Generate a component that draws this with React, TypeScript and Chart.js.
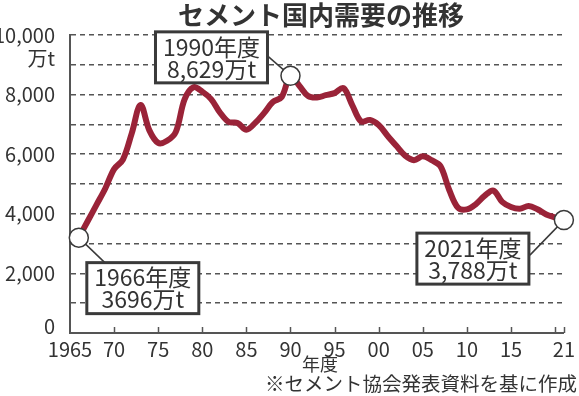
import React, { useEffect, useRef } from "react";
import { Chart, registerables } from "chart.js";

Chart.register(...registerables);

const FONT = '"Noto Sans CJK JP", "Noto Sans", sans-serif';
const TEXT = "#333333";
const AXIS = "#555555";
const LINE_RED = "#9a2338";

const title = "セメント国内需要の推移";
const yUnit = "万t";
const xTitle = "年度";
const sourceNote = "※セメント協会発表資料を基に作成";

const years = [
  1966, 1967, 1968, 1969, 1970, 1971, 1972, 1973, 1974, 1975,
  1976, 1977, 1978, 1979, 1980, 1981, 1982, 1983, 1984, 1985,
  1986, 1987, 1988, 1989, 1990, 1991, 1992, 1993, 1994, 1995,
  1996, 1997, 1998, 1999, 2000, 2001, 2002, 2003, 2004, 2005,
  2006, 2007, 2008, 2009, 2010, 2011, 2012, 2013, 2014, 2015,
  2016, 2017, 2018, 2019, 2020, 2021,
];

// domestic demand (万t)
const demand = [
  3200, 3750, 4300, 4850, 5500, 5820, 6700, 7650, 6800, 6380,
  6450, 6750, 7850, 8250, 8100, 7850, 7400, 7080, 7050, 6820,
  7050, 7380, 7750, 7920, 8629, 8300, 7950, 7900, 7980, 8050,
  8220, 7650, 7100, 7150, 6980, 6620, 6280, 5950, 5800, 5930,
  5800, 5600, 4800, 4200, 4150, 4320, 4600, 4780, 4400, 4230,
  4170, 4260, 4150, 3980, 3880, 3788,
];

const xTickYears = [1965, 1970, 1975, 1980, 1985, 1990, 1995, 2000, 2005, 2010, 2015, 2020, 2021];
const xMin = 1965;
const xMax = 2021;
const yMin = 0;
const yMax = 10000;
const yStep = 1000;

const highlightYears = [1966, 1990, 2021];
const highlightLine1 = ["1966年度", "1990年度", "2021年度"];
const highlightLine2 = ["3696万t", "8,629万t", "3,788万t"];
// box offsets relative to the marker: [left, top, leaderX, leaderY]
const boxOffsets = [
  [8, 25, 26, 25],
  [-135, -44, -23, -20],
  [-147, 13, -34, 35],
];
const BOX_W = 112;
const BOX_H = 51;

function xLabel(v: number): string {
  if (v === 1965) return "1965";
  if (v === 2020) return "";
  return String(v % 100).padStart(2, "0");
}

export default function App() {
  const ref = useRef<HTMLCanvasElement | null>(null);

  useEffect(() => {
    document.body.style.margin = "0";
    const canvas = ref.current;
    if (!canvas) return;

    const markerPos = (chart: any, i: number) => {
      const xs = chart.scales.x;
      const ys = chart.scales.y;
      const idx = years.indexOf(highlightYears[i]);
      return { x: xs.getPixelForValue(years[idx]), y: ys.getPixelForValue(demand[idx]) };
    };

    const decor = {
      id: "decor",
      beforeDatasetsDraw(chart: any) {
        const ctx = chart.ctx;
        ctx.save();
        ctx.strokeStyle = "#3a3a3a";
        ctx.lineWidth = 1.5;
        for (let i = 0; i < highlightYears.length; i++) {
          const p = markerPos(chart, i);
          const o = boxOffsets[i];
          ctx.beginPath();
          ctx.moveTo(p.x, p.y);
          ctx.lineTo(p.x + o[2], p.y + o[3]);
          ctx.stroke();
        }
        ctx.restore();
      },
      afterDatasetsDraw(chart: any) {
        const ctx = chart.ctx;
        ctx.save();
        for (let i = 0; i < highlightYears.length; i++) {
          const p = markerPos(chart, i);
          const o = boxOffsets[i];
          const bx = p.x + o[0];
          const by = p.y + o[1];
          ctx.fillStyle = "#ffffff";
          ctx.fillRect(bx, by, BOX_W, BOX_H);
          ctx.strokeStyle = "#3a3a3a";
          ctx.lineWidth = 3;
          ctx.strokeRect(bx, by, BOX_W, BOX_H);
          ctx.fillStyle = TEXT;
          ctx.font = `23px ${FONT}`;
          ctx.textAlign = "center";
          ctx.textBaseline = "middle";
          ctx.fillText(highlightLine1[i], bx + BOX_W / 2, by + 15);
          ctx.fillText(highlightLine2[i], bx + BOX_W / 2, by + 37);
        }
        ctx.restore();
      },
      afterDraw(chart: any) {
        const ctx = chart.ctx;
        const xs = chart.scales.x;
        const area = chart.chartArea;
        ctx.save();
        // upward tick marks on x axis
        ctx.strokeStyle = AXIS;
        ctx.lineWidth = 1.5;
        for (const v of xTickYears) {
          if (v === xMin) continue;
          const px = Math.round(xs.getPixelForValue(v)) + 0.5;
          ctx.beginPath();
          ctx.moveTo(px, area.bottom);
          ctx.lineTo(px, area.bottom - 6);
          ctx.stroke();
        }
        ctx.fillStyle = TEXT;
        // title
        ctx.font = `bold 26px ${FONT}`;
        ctx.textAlign = "center";
        ctx.textBaseline = "middle";
        ctx.fillText(title, 321, 15);
        // y unit and raised zero label
        ctx.font = `20px ${FONT}`;
        ctx.textAlign = "right";
        ctx.fillText(yUnit, 55, 58);
        ctx.fillText(String(yMin), 55, area.bottom - 7);
        // x title
        ctx.font = `18px ${FONT}`;
        ctx.textAlign = "center";
        ctx.fillText(xTitle, 320, 364);
        // source
        ctx.font = `19.5px ${FONT}`;
        ctx.textAlign = "right";
        ctx.fillText(sourceNote, 577, 384);
        ctx.restore();
      },
    };

    const chart = new Chart(canvas, {
      type: "line",
      data: {
        datasets: [
          {
            data: years.map((y, i) => ({ x: y, y: demand[i] })),
            borderColor: LINE_RED,
            borderWidth: 6,
            tension: 0.35,
            clip: false as any,
            pointRadius: (c: any) => (highlightYears.includes(years[c.dataIndex]) ? 9.5 : 0),
            pointHoverRadius: 0,
            pointBackgroundColor: "#ffffff",
            pointBorderColor: "#3a3a3a",
            pointBorderWidth: 1.5,
          },
        ],
      },
      options: {
        responsive: false,
        animation: false,
        events: [],
        layout: { padding: { top: 35, right: 11.7, left: 0, bottom: 0 } },
        plugins: { legend: { display: false }, tooltip: { enabled: false }, title: { display: false } },
        scales: {
          x: {
            type: "linear",
            min: xMin,
            max: xMax,
            afterBuildTicks: (s: any) => {
              s.ticks = xTickYears.map((v) => ({ value: v }));
            },
            afterFit: (s: any) => {
              s.height = 63;
            },
            grid: { display: false, drawTicks: false },
            border: { display: true, color: AXIS, width: 2 },
            ticks: {
              autoSkip: false,
              maxRotation: 0,
              padding: 4,
              color: TEXT,
              font: { family: FONT, size: 20 },
              callback: (v: any) => xLabel(Number(v)),
            },
          },
          y: {
            type: "linear",
            min: yMin,
            max: yMax,
            afterFit: (s: any) => {
              s.width = 70;
            },
            grid: { color: AXIS, lineWidth: 1.5, drawTicks: false },
            border: { display: true, color: AXIS, width: 2, dash: [5, 4] },
            ticks: {
              stepSize: yStep,
              padding: 15,
              color: TEXT,
              font: { family: FONT, size: 20 },
              callback: (v: any) => {
                const n = Number(v);
                if (n === yMin) return "";
                return n % 2000 === 0 ? n.toLocaleString("en-US") : "";
              },
            },
          },
        },
      },
      plugins: [decor],
    });

    return () => chart.destroy();
  }, []);

  return (
    <div style={{ position: "fixed", left: 0, top: 0, width: 579, height: 396, background: "#fff" }}>
      <canvas ref={ref} width={579} height={396} />
    </div>
  );
}
